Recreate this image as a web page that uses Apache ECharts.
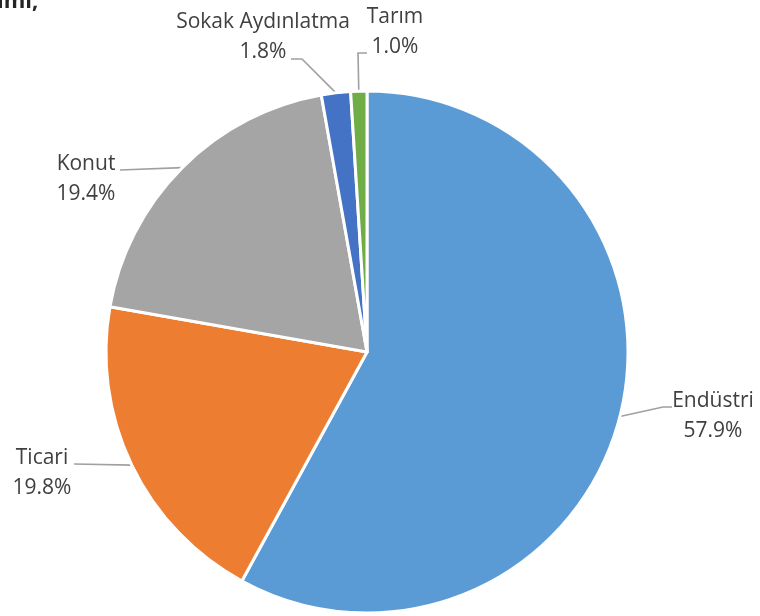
<!DOCTYPE html>
<html>
<head>
<meta charset="utf-8">
<script src="https://cdn.jsdelivr.net/npm/echarts@6/dist/echarts.min.js"></script>
<style>
  html, body { margin: 0; padding: 0; background: #fff; }
  #chart { width: 760px; height: 616px; }
</style>
</head>
<body>
<div id="chart"></div>
<script>
// Electricity consumption by sector (share, %)
const sectors = ['Endüstri', 'Ticari', 'Konut', 'Sokak Aydınlatma', 'Tarım'];
const shares = [57.9, 19.8, 19.4, 1.8, 1.0];
const sectorColors = ['#5B9BD5', '#ED7D31', '#A5A5A5', '#4472C4', '#70AD47'];

// Where each label block sits, and how its leader line bends towards it
// (offsets relative to the label centre).
const labelSpots = [
  { x: 713, y: 416, line: [[-50, -9], [-41, -9]] },
  { x: 42,  y: 473, line: [[32, -9]] },
  { x: 86,  y: 179, line: [[34, -9]] },
  { x: 263, y: 37,  line: [[39, 22], [28, 22]] },
  { x: 395, y: 32,  line: [[-37, 21], [-28, 21]] }
];

const chart = echarts.init(document.getElementById('chart'), null, { renderer: 'canvas' });

chart.setOption({
  animation: false,
  backgroundColor: '#ffffff',
  graphic: [{
    type: 'text',
    left: -3,
    top: -9,
    style: {
      text: 'ımı,',
      font: 'bold 22px "Open Sans"',
      fill: '#262626'
    }
  }],
  series: [{
    type: 'pie',
    center: [367, 352],
    radius: 261,
    startAngle: 90,
    clockwise: true,
    avoidLabelOverlap: false,
    itemStyle: { borderColor: '#ffffff', borderWidth: 3 },
    label: {
      show: true,
      position: 'outside',
      fontFamily: '"Open Sans"',
      fontSize: 21,
      lineHeight: 30,
      color: '#404040',
      align: 'center',
      formatter: p => p.name + '\n' + p.value.toFixed(1) + '%'
    },
    labelLine: {
      show: true,
      lineStyle: { color: '#A0A0A0', width: 1.6 }
    },
    labelLayout: function (params) {
      const spot = labelSpots[params.dataIndex];
      const start = params.labelLinePoints[0];
      const pts = [start].concat(spot.line.map(d => [spot.x + d[0], spot.y + d[1]]));
      return {
        x: spot.x,
        y: spot.y,
        align: 'center',
        verticalAlign: 'middle',
        labelLinePoints: pts
      };
    },
    emphasis: { disabled: true },
    data: sectors.map((name, i) => ({
      name: name,
      value: shares[i],
      itemStyle: { color: sectorColors[i] }
    }))
  }]
});
</script>
</body>
</html>
